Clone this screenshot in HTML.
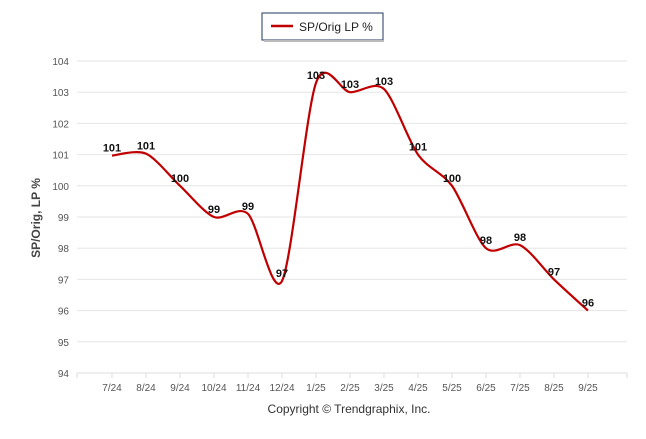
<!DOCTYPE html>
<html><head><meta charset="utf-8"><style>
body{margin:0;background:#fff;font-family:"Liberation Sans",Arial,sans-serif}
svg text{font-family:"Liberation Sans",Arial,sans-serif}
</style></head><body>
<svg id="c" width="646" height="434">
<rect x="262" y="13" width="121" height="27" fill="#fff" stroke="#1f3a5f" stroke-width="1"/>
<line x1="264" y1="41" x2="384" y2="41" stroke="#bbb" stroke-width="2"/>
<line x1="271" y1="26" x2="293" y2="26" stroke="#c00000" stroke-width="2.5"/>
<text x="299" y="31" font-size="12" fill="#222">SP/Orig LP %</text>
<text transform="translate(40,218) rotate(-90)" text-anchor="middle" font-size="12" font-weight="bold" fill="#444">SP/Orig, LP %</text>
<text x="349" y="413" text-anchor="middle" font-size="12" fill="#333">Copyright © Trendgraphix, Inc.</text>
<g id="grid"></g><g id="xt"></g><path id="ln" fill="none" stroke="#c00000" stroke-width="2.2"/><g id="lb"></g>
</svg>
<script>
const categories=["7/24","8/24","9/24","10/24","11/24","12/24","1/25","2/25","3/25","4/25","5/25","6/25","7/25","8/25","9/25"];
const values=[100.97,101.03,100,99,99.1,96.95,103.3,103,103.1,101,100,98,98.1,97,96];
const labels=["101","101","100","99","99","97","103","103","103","101","100","98","98","97","96"];
const yTicks=[94,95,96,97,98,99,100,101,102,103,104];
const NS="http://www.w3.org/2000/svg";
const X=i=>112+i*34,Y=v=>61+(104-v)*31.2;
function mk(t,a,p){const e=document.createElementNS(NS,t);for(const k in a)e.setAttribute(k,a[k]);document.getElementById(p).appendChild(e);return e;}
yTicks.forEach(v=>{
 const l=mk("line",{x1:77,x2:627,y1:Y(v),y2:Y(v),stroke:"#e6e6e6"},"grid");
 
 
 const t=mk("text",{x:69,y:Y(v)+4,"text-anchor":"end","font-size":"10",fill:"#555"},"grid");t.textContent=v;
 
 
});
mk("line",{x1:77,x2:627,y1:Y(94),y2:Y(94),stroke:"#ddd"},"xt");
categories.forEach((c,i)=>{
 mk("line",{x1:X(i),x2:X(i),y1:Y(94),y2:Y(94)+5,stroke:"#ddd"},"xt");
 const t=mk("text",{x:X(i),y:391,"text-anchor":"middle","font-size":"10",fill:"#555"},"xt");t.textContent=c;
 
 
});
mk("line",{x1:77,x2:77,y1:Y(94),y2:Y(94)+5,stroke:"#ddd"},"xt");
mk("line",{x1:627,x2:627,y1:Y(94),y2:Y(94)+5,stroke:"#ddd"},"xt");
const P=values.map((v,i)=>[X(i),Y(v)]);
let d="M"+P[0][0]+","+P[0][1];
for(let i=0;i<P.length-1;i++){
 const p0=P[i-1]||P[i],p1=P[i],p2=P[i+1],p3=P[i+2]||p2,k=7;
 d+=` C${p1[0]+(p2[0]-p0[0])/k},${p1[1]+(p2[1]-p0[1])/k} ${p2[0]-(p3[0]-p1[0])/k},${p2[1]-(p3[1]-p1[1])/k} ${p2[0]},${p2[1]}`;
}
document.getElementById("ln").setAttribute("d",d);
values.forEach((v,i)=>{
 const t=mk("text",{x:X(i),y:Y(v)-4,"text-anchor":"middle","font-size":"11","font-weight":"bold",fill:"#111"},"lb");t.textContent=labels[i];
 
 
});
</script>
</body></html>
